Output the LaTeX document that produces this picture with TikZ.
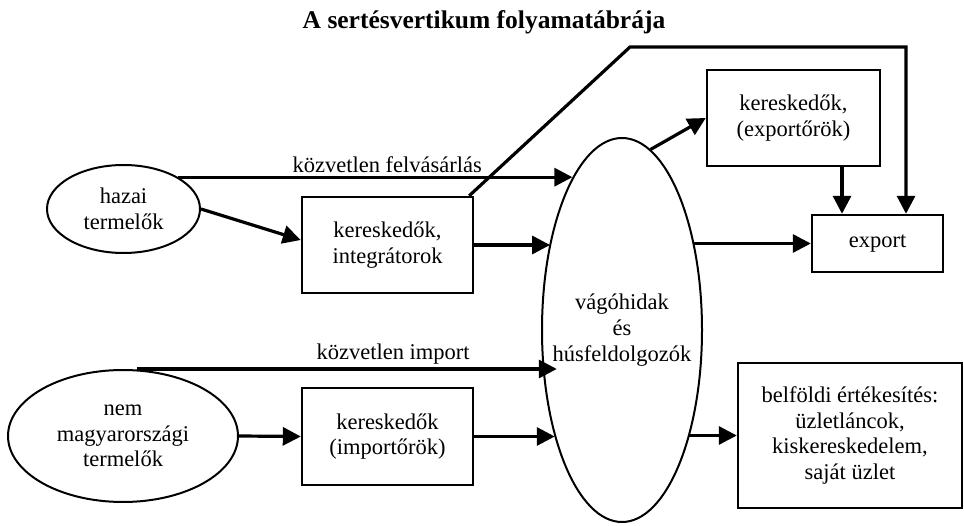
\documentclass[tikz,border=0pt]{standalone}
\usepackage{fontspec}
\setmainfont{Liberation Serif}
\usetikzlibrary{arrows.meta,shapes.geometric}

\begin{document}
\begin{tikzpicture}[x=1pt, y=-1pt, >={Triangle[width=18pt,length=18pt]}, font=\fontsize{22.5}{25.7}\selectfont, box/.style={draw, line width=2.4pt, align=center, inner sep=0pt}, blob/.style={draw, ellipse, line width=2pt, align=center, inner sep=0pt}, flow/.style={->, line width=3.2pt}, auto]
\useasboundingbox (0,0) rectangle (964,526);
\draw (484, 22)node[font=\fontsize{25.5}{30}\selectfont\bfseries](t){A sertésvertikum folyamatábrája};
\draw (123.5, 209)node[blob, minimum width=153pt, minimum height=88pt](0){hazai\\termelők};
\draw (123, 436)node[blob, minimum width=230pt, minimum height=132pt](1){nem\\magyarországi\\termelők};
\draw (622, 330)node[blob, minimum width=160pt, minimum height=384pt, label={[align=center]center:vágóhidak\\és\\húsfeldolgozók}](2){};
\draw (387.5, 245)node[box, minimum width=171pt, minimum height=96pt](3){kereskedők,\\integrátorok};
\draw (387.5, 436.5)node[box, minimum width=171pt, minimum height=97pt](4){kereskedők\\(importőrök)};
\draw (793.5, 118)node[box, minimum width=173pt, minimum height=96pt](5){kereskedők,\\(exportőrök)};
\draw (877.5, 243.5)node[box, minimum width=131pt, minimum height=57pt](6){export};
\draw (850, 435.5)node[box, minimum width=224pt, minimum height=145pt](7){belföldi értékesítés:\\üzletláncok,\\kiskereskedelem,\\saját üzlet};
\coordinate (a) at (630, 47);
\coordinate (b) at (906, 47);
\path[flow] (0.north east) edge node[pos=0.53]{közvetlen felvásárlás} (0.north east -| 2.108);
\path[flow] (0.east) edge ([yshift=5pt]3.west);
\path[flow] (3.east) edge (3.east -| 2.129);
\path[flow] ([xshift=14pt]1.north) edge node[pos=0.61]{közvetlen import} ([xshift=14pt]1.north -| 2.207);
\path[flow] (1.east) edge (4.west);
\path[flow] (4.east) edge (4.east -| 2.238);
\path[flow] (2.81) edge (5.west);
\path[flow] (6.west -| 2.51) edge (6.west);
\path[flow] (7.west -| 2.302) edge (7.west);
\path[flow] ([xshift=48.5pt]5.south) edge ([xshift=48.5pt]5.south |- 6.north);
\draw[flow] ([xshift=-5pt]3.north east) -- (a) -- (b) -- (b |- 6.north);
\end{tikzpicture}
\end{document}
